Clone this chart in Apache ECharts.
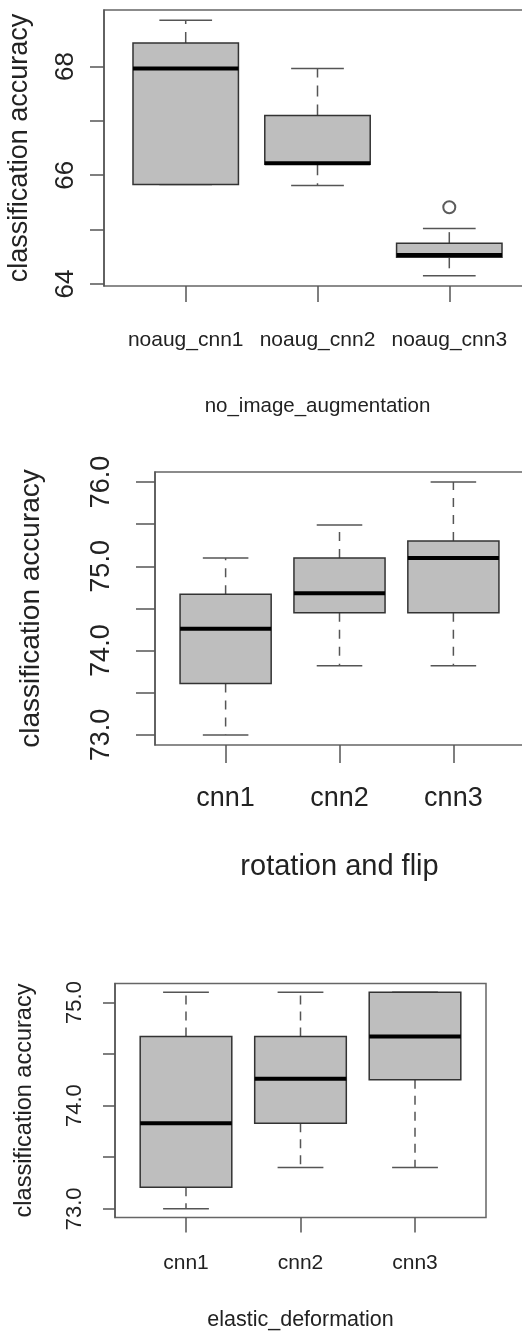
<!DOCTYPE html>
<html>
<head>
<meta charset="utf-8">
<script src="https://cdn.jsdelivr.net/npm/echarts@6/dist/echarts.min.js"></script>
<style>
html, body { margin: 0; padding: 0; background: #fff; }
#chart { width: 522px; height: 1338px; }
</style>
</head>
<body>
<div id="chart"></div>
<script>
// box stats per group: [min, q1, median, q3, max]
var noaugCats = ['noaug_cnn1', 'noaug_cnn2', 'noaug_cnn3'];
var noaugStats = [
  [65.83, 65.83, 67.96, 68.43, 68.85],
  [65.81, 66.20, 66.22, 67.10, 67.96],
  [64.15, 64.49, 64.53, 64.75, 65.02]
];
var noaugOutliers = [[3, 65.41]];
var noaugTicks = [64, 65, 66, 67, 68];
var noaugLabels = [64, 66, 68];

var rotCats = ['cnn1', 'cnn2', 'cnn3'];
var rotStats = [
  [73.00, 73.61, 74.26, 74.67, 75.10],
  [73.82, 74.45, 74.68, 75.10, 75.49],
  [73.82, 74.45, 75.10, 75.30, 76.00]
];
var rotTicks = [73, 73.5, 74, 74.5, 75, 75.5, 76];
var rotLabels = [73, 74, 75, 76];

var elasticCats = ['cnn1', 'cnn2', 'cnn3'];
var elasticStats = [
  [73.00, 73.21, 73.83, 74.67, 75.10],
  [73.40, 73.83, 74.26, 74.67, 75.10],
  [73.40, 74.25, 74.67, 75.10, 75.10]
];
var elasticTicks = [73, 73.5, 74, 74.5, 75];
var elasticLabels = [73, 74, 75];

var FONT = '"Liberation Sans", Arial, sans-serif';
var INK = '#222';
var LINE = '#555';

// R style y range: data range padded by 4%
function yRange(stats, outliers) {
  var lo = Infinity, hi = -Infinity;
  stats.forEach(function (s) { lo = Math.min(lo, s[0]); hi = Math.max(hi, s[4]); });
  (outliers || []).forEach(function (o) { lo = Math.min(lo, o[1]); hi = Math.max(hi, o[1]); });
  var pad = (hi - lo) * 0.04;
  return [lo - pad, hi + pad];
}

function boxRenderer(dash) {
  return function (params, api) {
    var x = api.value(0);
    var boxHalf = api.size([0.4, 0])[0];
    var capHalf = api.size([0.2, 0])[0];
    var lo = api.coord([x, api.value(1)]);
    var q1 = api.coord([x, api.value(2)]);
    var md = api.coord([x, api.value(3)]);
    var q3 = api.coord([x, api.value(4)]);
    var hi = api.coord([x, api.value(5)]);
    var cx = lo[0];
    var whisker = { stroke: LINE, lineWidth: 1.5, lineDash: dash };
    var cap = { stroke: LINE, lineWidth: 1.5 };
    return {
      type: 'group',
      children: [
        { type: 'line', shape: { x1: cx, y1: q3[1], x2: cx, y2: hi[1] }, style: whisker },
        { type: 'line', shape: { x1: cx, y1: q1[1], x2: cx, y2: lo[1] }, style: whisker },
        { type: 'line', shape: { x1: cx - capHalf, y1: hi[1], x2: cx + capHalf, y2: hi[1] }, style: cap },
        { type: 'line', shape: { x1: cx - capHalf, y1: lo[1], x2: cx + capHalf, y2: lo[1] }, style: cap },
        { type: 'rect', shape: { x: cx - boxHalf, y: q3[1], width: boxHalf * 2, height: q1[1] - q3[1] },
          style: { fill: '#bebebe', stroke: '#333', lineWidth: 1.5 } },
        { type: 'line', shape: { x1: cx - boxHalf, y1: md[1], x2: cx + boxHalf, y2: md[1] },
          style: { stroke: '#000', lineWidth: 4 } }
      ]
    };
  };
}

function toRows(stats) {
  return stats.map(function (s, i) { return [i + 1].concat(s); });
}

function makeX(idx, cats, p) {
  return {
    type: 'value', gridIndex: idx, min: 0.38, max: 3.62,
    name: p.title, nameLocation: 'middle', nameGap: p.nameGap,
    nameTextStyle: { fontFamily: FONT, fontSize: p.nameSize, color: INK },
    axisLine: { show: false },
    splitLine: { show: false },
    axisTick: { show: true, customValues: [1, 2, 3], length: p.tickLen,
      lineStyle: { color: LINE, width: 1.5 } },
    axisLabel: { customValues: [1, 2, 3], margin: p.margin, fontFamily: FONT,
      fontSize: p.labelSize, color: INK, hideOverlap: false, showMinLabel: true, showMaxLabel: true,
      formatter: function (v) { return cats[Math.round(v) - 1]; } }
  };
}

function makeY(idx, range, ticks, labels, p) {
  return {
    type: 'value', gridIndex: idx, min: range[0], max: range[1],
    name: 'classification accuracy', nameLocation: 'middle', nameRotate: 90, nameGap: p.nameGap,
    nameTextStyle: { fontFamily: FONT, fontSize: p.nameSize, color: INK },
    axisLine: { show: true, lineStyle: { color: LINE, width: 1.5 } },
    splitLine: { show: false },
    axisTick: { show: true, customValues: ticks, length: p.tickLen,
      lineStyle: { color: LINE, width: 1.5 } },
    axisLabel: { customValues: labels, rotate: 90, margin: p.margin, fontFamily: FONT,
      fontSize: p.labelSize, color: INK, hideOverlap: false,
      formatter: function (v) { return p.digits ? Number(v).toFixed(p.digits) : String(Math.round(v)); } }
  };
}

var gridBase = { show: true, borderColor: '#666', borderWidth: 1.5, backgroundColor: 'transparent',
  containLabel: false, outerBoundsMode: 'none' };

var option = {
  animation: false,
  backgroundColor: '#fff',
  grid: [
    Object.assign({ left: 104, top: 10, width: 427, height: 276 }, gridBase),
    Object.assign({ left: 155, top: 472, width: 369, height: 273 }, gridBase),
    Object.assign({ left: 115, top: 983.5, width: 371, height: 234 }, gridBase)
  ],
  xAxis: [
    makeX(0, noaugCats, { title: 'no_image_augmentation', nameGap: 110, nameSize: 20.5,
      labelSize: 21, margin: 44, tickLen: 16 }),
    makeX(1, rotCats, { title: 'rotation and flip', nameGap: 107, nameSize: 29,
      labelSize: 27, margin: 40, tickLen: 18 }),
    makeX(2, elasticCats, { title: 'elastic_deformation', nameGap: 92, nameSize: 21.5,
      labelSize: 21, margin: 35, tickLen: 15 })
  ],
  yAxis: [
    makeY(0, yRange(noaugStats, noaugOutliers), noaugTicks, noaugLabels,
      { nameGap: 71, nameSize: 27, labelSize: 26, margin: 25, tickLen: 14, digits: 0 }),
    makeY(1, yRange(rotStats), rotTicks, rotLabels,
      { nameGap: 110, nameSize: 28, labelSize: 27, margin: 40, tickLen: 19, digits: 1 }),
    makeY(2, yRange(elasticStats), elasticTicks, elasticLabels,
      { nameGap: 78, nameSize: 23.5, labelSize: 22, margin: 29, tickLen: 12, digits: 1 })
  ],
  series: [
    { type: 'custom', xAxisIndex: 0, yAxisIndex: 0, renderItem: boxRenderer([11, 8]),
      encode: { x: 0, y: [1, 2, 3, 4, 5] }, data: toRows(noaugStats) },
    { type: 'scatter', xAxisIndex: 0, yAxisIndex: 0, symbol: 'emptyCircle', symbolSize: 12,
      itemStyle: { color: '#333', borderWidth: 2 }, data: noaugOutliers },
    { type: 'custom', xAxisIndex: 1, yAxisIndex: 1, renderItem: boxRenderer([9, 8]),
      encode: { x: 0, y: [1, 2, 3, 4, 5] }, data: toRows(rotStats) },
    { type: 'custom', xAxisIndex: 2, yAxisIndex: 2, renderItem: boxRenderer([9, 7]),
      encode: { x: 0, y: [1, 2, 3, 4, 5] }, data: toRows(elasticStats) }
  ]
};

var chart = echarts.init(document.getElementById('chart'));
chart.setOption(option);
</script>
</body>
</html>
